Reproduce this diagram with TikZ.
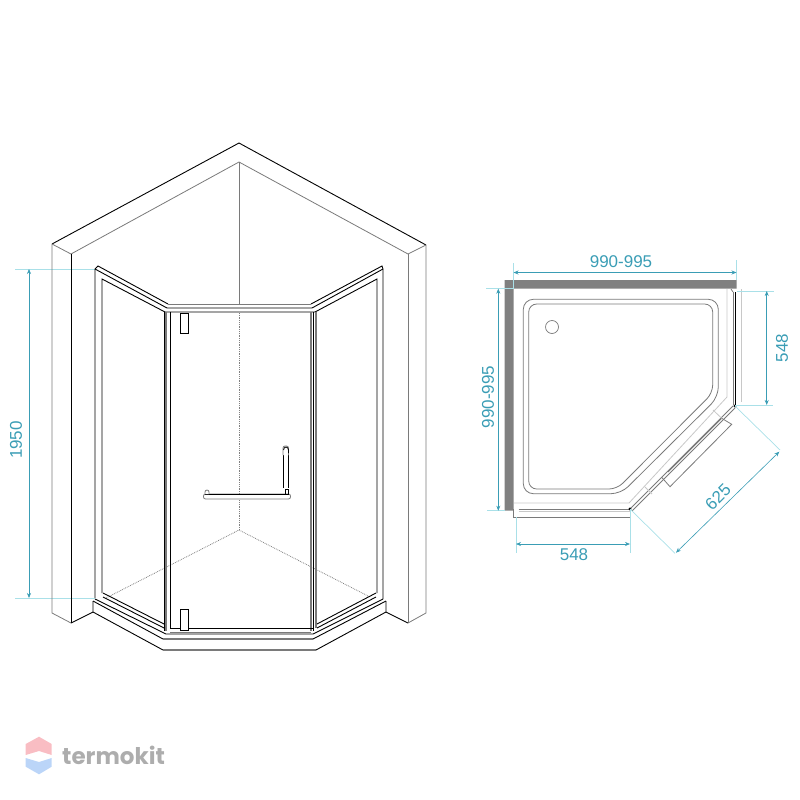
\documentclass[tikz,border=0pt]{standalone}
\usepackage{fontspec}
\setmainfont{Liberation Sans}
\newfontfamily\brandfont{Poppins}
\usetikzlibrary{arrows.meta}
\definecolor{dimcol}{HTML}{3A9DB5}
\definecolor{extcol}{HTML}{A9E0E8}
\definecolor{bandcol}{HTML}{808080}
\definecolor{wallcol}{HTML}{7A7A7A}
\definecolor{lightcol}{HTML}{C8C8C8}
\definecolor{brandred}{HTML}{F9BDC3}
\definecolor{brandblue}{HTML}{BBD5F8}
\tikzset{
  blackline/.style={draw=black, line width=0.9pt},
  wallline/.style={draw=wallcol, line width=0.8pt},
  lightline/.style={draw=lightcol, line width=0.8pt},
  floorline/.style={draw=gray, line width=0.8pt, densely dotted},
  dimline/.style={draw=dimcol, line width=0.6pt, <->, >={Stealth[length=5pt,width=4pt]}},
  extline/.style={draw=extcol, line width=0.7pt},
  dimtext/.style={text=dimcol, font=\fontsize{17}{20}\selectfont, inner sep=0pt},
}
\begin{document}
\begin{tikzpicture}[x=1pt,y=-1pt]
  \useasboundingbox (0,0) rectangle (800,800);
  \coordinate (h top) at (95,269);
  \coordinate (h bot) at (95,598);
  \coordinate (h top end) at (15,269);
  \coordinate (h bot end) at (15,598);
  \coordinate (h arrow top) at (29,269);
  \coordinate (h arrow bot) at (29,598);
  \draw[extline] (h top end) -- (h top);
  \draw[extline] (h bot end) -- (h bot);
  \draw[dimline] (h arrow top) -- (h arrow bot);
  \node[dimtext, rotate=90] (h label) at (16,440) {1950};

  \draw[blackline] (52,244) -- (239,143) -- (426,245);
  \draw[wallline] (52,244) -- (71,254) -- (239,162) -- (408,254) -- (426,245);
  \draw[wallline] (239,162) -- (239,304);
  \draw[wallline] (52,244) -- (52,613) -- (71,623);
  \draw[blackline] (71,254) -- (71,623);
  \draw[blackline] (71,623) -- (93,612);
  \draw[wallline] (408,254) -- (408,623);
  \draw[wallline] (426,245) -- (426,613) -- (408,623);
  \draw[blackline] (408,623) -- (386,612);

  \draw[floorline] (239,313) -- (239,530);
  \draw[floorline] (106,598) -- (239,530) -- (370,597);

  \draw[blackline] (95,598) -- (95,269) -- (98,266) -- (168,304);
  \draw[wallline] (168,304) -- (311,304);
  \draw[blackline] (311,304) -- (382,266) -- (383,269) -- (383,599);
  \draw[blackline] (95,269) -- (167,308) -- (312,308) -- (383,269);
  \draw[blackline] (102,593) -- (102,279) -- (165,312);
  \draw[blackline] (165,312) -- (315,312) -- (377,279) -- (377,593);
  \draw[blackline] (164,312) -- (164,631);
  \draw[wallline, line width=1.5pt] (166,312) -- (166,631);
  \draw[blackline] (170,312) -- (170,628);
  \draw[wallline, line width=2.5pt] (311,312) -- (311,631);
  \draw[blackline] (313,312) -- (313,631);
  \draw[wallline, line width=1.5pt] (316,312) -- (316,628);

  \draw[blackline] (103,593) -- (164,624);
  \draw[blackline] (103,597) -- (164,628);
  \draw[blackline] (95,599) -- (166,634) -- (313,634) -- (383,599);
  \draw[blackline] (93,601) -- (163,639);
  \draw[wallline, line width=1.4pt] (163,639) -- (313,639);
  \draw[blackline] (313,639) -- (386,601);
  \draw[blackline] (93,601) -- (93,612) -- (163,650);
  \draw[wallline, line width=1.2pt] (163,650) -- (316,650);
  \draw[blackline] (316,650) -- (386,612) -- (386,601);
  \draw[blackline] (317,628) -- (376,597);
  \draw[blackline] (317,624) -- (376,593);
  \draw[blackline] (170,628) -- (313,628);
  \draw[wallline] (170,632) -- (311,632);

  \draw[blackline, line width=0.6pt, fill=white] (180,313) rectangle (188,333);
  \draw[blackline, line width=0.6pt, fill=white] (180,609) rectangle (188,630);

  \draw[wallline, fill=white, rounded corners=2pt] (203.5,494) rectangle (290.5,499);
  \draw[blackline, line width=0.8pt] (205,494) -- (289,494);
  \draw[wallline, fill=white, rounded corners=2pt] (205,494) -- (205,490) -- (209,490) -- (209,494);
  \draw[blackline, line width=0.7pt] (283.5,452) -- (283.5,488);
  \draw[blackline, line width=0.7pt] (288.5,452) -- (288.5,488);
  \draw[wallline, fill=white, rounded corners=2pt] (283,455) -- (283,446) -- (288.5,446) -- (288.5,455);
  \draw[blackline, line width=0.8pt] (283.5,450) arc (180:0:2.5 and -3) -- (288.5,453);
  \draw[blackline, line width=0.8pt] (285,494) -- (285,489) -- (288,489) -- (288,494);

  \fill[bandcol] (504.5,280) -- (736.5,280) -- (736.5,288.5) -- (513.5,288.5) -- (513.5,510.5) -- (504.5,510.5) -- cycle;
  \draw[wallline, rounded corners=10pt] (523.3,299.3) -- (718.3,299.3) -- (718.3,397) -- (621,493.7) -- (523.3,493.7) -- cycle;
  \draw[wallline, rounded corners=8pt] (528.7,304) -- (712.7,304) -- (712.7,393) -- (617,489) -- (528.7,489) -- cycle;
  \node[draw=wallcol, line width=0.7pt, circle, minimum size=13pt, inner sep=0pt] (drain) at (552,327) {};

  \draw[lightline] (727,289) -- (727,397) -- (629,503) -- (514,503);
  \draw[lightline] (741.3,289) -- (741.3,402);
  \draw[wallline] (733,292) -- (733,405);
  \draw[blackline, line width=0.7pt] (735,292) -- (735,405);
  \draw[wallline] (731,289) -- (733,292);
  \draw[wallline] (518.7,509) -- (630,509);
  \draw[wallline] (513.3,509) -- (513.3,517) -- (630,517);
  \draw[lightline] (518.7,511) -- (630,511);
  \draw[wallline] (733,406) -- (630,509);
  \draw[wallline] (735,408) -- (632,511);
  \draw[wallline] (721.7,418.3) -- (731.7,424.3) -- (670,486.7) -- (661.7,477.3);
  \draw[wallline] (721.7,418.3) -- (716,424) -- (668,472);
  \draw[lightline] (713,410) -- (721.7,418.3);
  \draw[lightline] (645,487) -- (652,494);
  \fill (735,406) circle (1.6);
  \fill (630,509) circle (1.6);

  \coordinate (w left) at (513.5,263);
  \coordinate (w left end) at (513.5,289);
  \coordinate (w right) at (736.5,260);
  \coordinate (w right end) at (736.5,280);
  \coordinate (w arrow a) at (513.5,272.5);
  \coordinate (w arrow b) at (736.5,272.5);
  \draw[extline] (w left) -- (w left end);
  \draw[extline] (w right) -- (w right end);
  \draw[dimline] (w arrow a) -- (w arrow b);
  \node[dimtext] (w label) at (621,262) {990-995};

  \coordinate (d top) at (486,288.7);
  \coordinate (d top end) at (514,288.7);
  \coordinate (d bot) at (487,510.7);
  \coordinate (d bot end) at (505,510.7);
  \coordinate (d arrow a) at (498.3,288.7);
  \coordinate (d arrow b) at (498.3,510.7);
  \draw[extline] (d top) -- (d top end);
  \draw[extline] (d bot) -- (d bot end);
  \draw[dimline] (d arrow a) -- (d arrow b);
  \node[dimtext, rotate=90] (d label) at (488,397) {990-995};

  \coordinate (r top) at (737,291);
  \coordinate (r top end) at (774,291);
  \coordinate (r bot) at (735,405);
  \coordinate (r bot end) at (773,405);
  \coordinate (r arrow a) at (766.7,291);
  \coordinate (r arrow b) at (766.7,405);
  \draw[extline] (r top) -- (r top end);
  \draw[extline] (r bot) -- (r bot end);
  \draw[dimline] (r arrow a) -- (r arrow b);
  \node[dimtext, rotate=90] (r label) at (782,348) {548};

  \coordinate (b left) at (516,517);
  \coordinate (b left end) at (516,553);
  \coordinate (b right) at (630,509);
  \coordinate (b right end) at (630,553);
  \coordinate (b arrow a) at (516,544);
  \coordinate (b arrow b) at (630,544);
  \draw[extline] (b left) -- (b left end);
  \draw[extline] (b right) -- (b right end);
  \draw[dimline] (b arrow a) -- (b arrow b);
  \node[dimtext] (b label) at (574,555) {548};

  \coordinate (s top) at (735,406);
  \coordinate (s top end) at (780,450);
  \coordinate (s bot) at (630,509);
  \coordinate (s bot end) at (675,553.3);
  \coordinate (s arrow a) at (779.3,451.7);
  \coordinate (s arrow b) at (676,552.7);
  \draw[extline] (s top) -- (s top end);
  \draw[extline] (s bot) -- (s bot end);
  \draw[dimline] (s arrow a) -- (s arrow b);
  \node[dimtext, rotate=45] (s label) at (718,497) {625};

  \fill[brandred] (25.7,744) -- (39,736.7) -- (51.7,744) -- (51.7,755) -- (39,751) -- (25.7,755) -- cycle;
  \fill[brandblue] (25.7,758) -- (39,762) -- (51.7,758) -- (51.7,766.7) -- (39,774.3) -- (25.7,766.7) -- cycle;
  \node[text=black!32, font=\brandfont\bfseries\fontsize{23}{28}\selectfont, inner sep=0pt, anchor=west] (brand) at (62,755) {termokit};
\end{tikzpicture}
\end{document}
